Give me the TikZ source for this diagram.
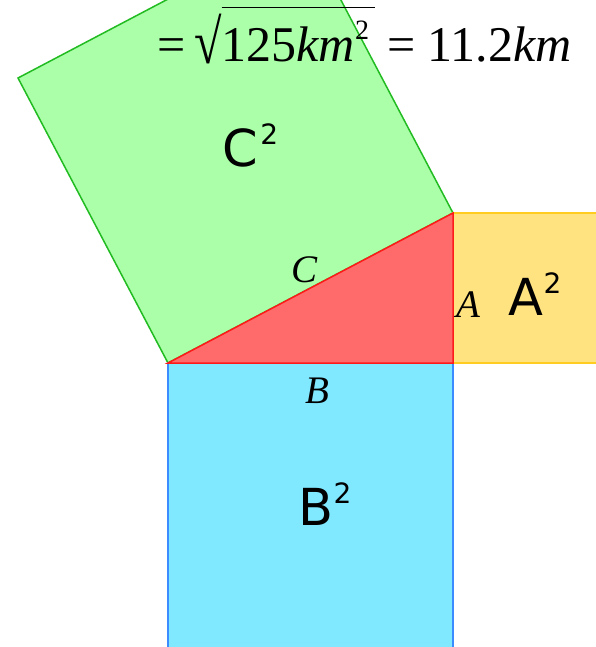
\documentclass[tikz,border=0pt]{standalone}
\usepackage{fontspec}
\setmainfont{Liberation Serif}
\newfontfamily\labelfont{DejaVu Sans}
\usepackage{tikz}
\usetikzlibrary{positioning,calc}
\definecolor{SquareGreen}{HTML}{AAFFA8}
\definecolor{EdgeGreen}{HTML}{22BB22}
\definecolor{TriangleRed}{HTML}{FF6B6B}
\definecolor{EdgeRed}{HTML}{FF1A1A}
\definecolor{SquareYellow}{HTML}{FFE380}
\definecolor{EdgeYellow}{HTML}{FFCC22}
\definecolor{SquareBlue}{HTML}{80E8FF}
\definecolor{EdgeBlue}{HTML}{3A8CFF}
\newcommand{\rootbar}[1]{\vbox{\hrule height 1.5pt\kern 13pt\hbox{#1}}}
\newcommand{\sqtwo}{\raisebox{22pt}{\fontsize{28}{28}\selectfont 2}}
\begin{document}
\begin{tikzpicture}[x=1pt,y=-1pt,line width=1.5pt,line join=miter,
  sidelabel/.style={inner sep=0pt,anchor=base,font=\fontsize{39}{39}\selectfont\itshape},
  arealabel/.style={inner sep=0pt,anchor=base west,font=\labelfont\fontsize{51}{51}\selectfont}]
\useasboundingbox (0,0) rectangle (596,647);
\clip (0,0) rectangle (596,647);
% corners of the triangle
\coordinate (P) at (168,363);
\coordinate (Q) at (453,363);
\coordinate (R) at (453,213);
% squares on the three sides
\draw[draw=EdgeGreen,fill=SquareGreen] (P) -- (R) -- ++(-150,-285) -- ($(P)+(-150,-285)$) -- cycle;
\draw[draw=EdgeYellow,fill=SquareYellow] (R) -- ++(150,0) -- ++(0,150) -- (Q) -- cycle;
\draw[draw=EdgeBlue,fill=SquareBlue] (P) -- (Q) -- ++(0,285) -- ++(-285,0) -- cycle;
\draw[draw=EdgeRed,fill=TriangleRed] (P) -- (Q) -- (R) -- cycle;
% labels
\node[sidelabel] (sideC) at (305,282) {C};
\node[sidelabel] (sideA) at (468,317) {A};
\node[sidelabel] (sideB) at (317,403) {B};
\node[arealabel] (areaC) at (222,167) {C\kern2pt\sqtwo};
\node[arealabel] (areaA) at (508,315) {A\sqtwo};
\node[arealabel] (areaB) at (298,525) {B\sqtwo};
\node[inner sep=0pt,anchor=base west,font=\fontsize{50}{50}\selectfont] (result) at (157,62)
  {=\,\raisebox{-2pt}{\scalebox{1}[1.25]{√}}\rootbar{125\textit{km}\sqtwo\kern6pt}\kern12pt= 11.2\textit{km}};
\end{tikzpicture}
\end{document}
